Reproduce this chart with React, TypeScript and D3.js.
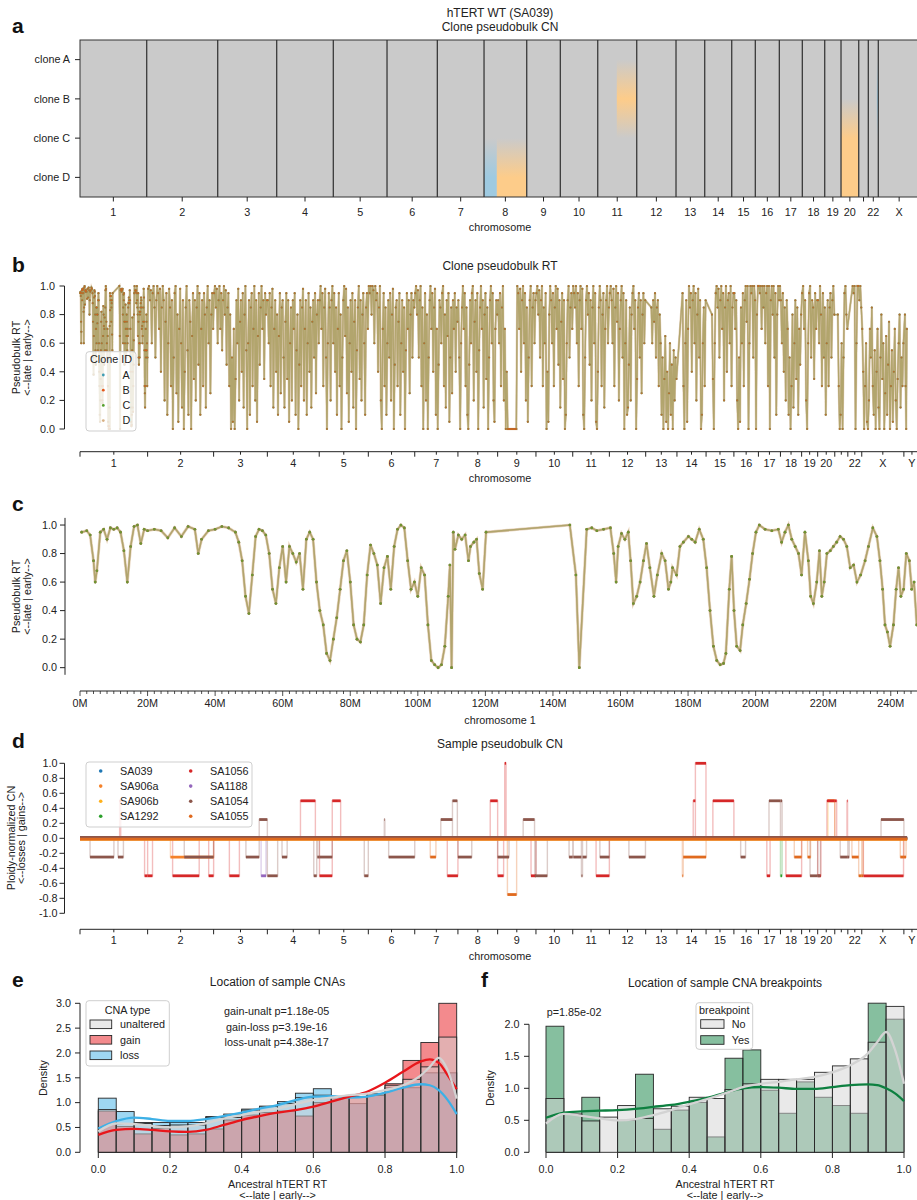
import React from "react";
import * as d3 from "d3";

const FONT = "'Liberation Sans', Arial, Helvetica, sans-serif";
const INK = "#222";

// chromosome names and hg19 lengths (Mb), used by the genome-wide RT / CN tracks
const chromNames = ["1","2","3","4","5","6","7","8","9","10","11","12","13","14","15","16","17","18","19","20","21","22","X","Y"];
const chromLengthsMb = [249.25,243.2,198.02,191.15,180.92,171.12,159.14,146.36,141.21,135.53,135.01,133.85,115.17,107.35,102.53,90.35,81.2,78.08,59.13,63.03,48.13,51.3,155.27,59.37];

// panel a: retained bins per chromosome (Mb), no Y
const cnChromSizes = [227.5,242.2,201.2,193.1,183.2,171.6,159.3,145.6,114.6,127.6,133.0,134.0,97.9,92.1,80.5,81.9,78.4,76.4,55.6,60.4,32.7,34.1,142.2];

const cloneIds = ["A","B","C","D"];
const cloneColors = ["#3f9db3","#e4581b","#58a02e","#d8b185"];

// [clone, chrom, startMb, endMb, state]
const cloneCnEvents: [string, string, number, number, string][] = [
  ["D","8",0,43.6,"loss"],
  ["D","8",43.6,145.6,"gain"],
  ["B","11",65,133,"gain"],
  ["C","20",0,60.4,"gain"],
  ["D","20",0,60.4,"gain"],
  ["B","22",29,34.1,"loss"],
];
const cnStateColors: Record<string, string> = { neutral: "#cacaca", gain: "#fdcc8a", loss: "#9ecae1" };

// panel c: chromosome 1 pseudobulk RT (position Mb, RT)
const chr1Pos = [0.5,2,3,4,4.5,5,6,7,8,9,10,11,12,13,14,15,16,17,18,19,20,22,24,26,28,30,32,34,35,36,38,40,42,44,46,47,48,49,50,51,52,53,54,55,56,57,58,59,60,61,62,63,64,65,66,67,68,69,70,71,72,73,74,75,76,77,78,79,80,81,82,83,84,85,86,87,88,89,90,91,92,93,94,95,96,97,98,99,100,101,102,103,104,105,106,107,108,109,109.5,110,110.5,111,112,113,114,115,115.6,116.6,117.4,118.2,119.2,120.2,145,146.8,147.8,150,151.5,153,155,157,158,158.7,159.3,160.3,161.3,162.3,163,163.8,164.8,165.8,166.8,167.7,168.7,169.9,170.9,172.2,173.2,174.2,174.9,175.4,176.6,177.6,178.6,180.1,181.1,182.1,183.3,184.5,185.5,186.5,187.5,188.5,189.5,190.5,191.2,192.2,192.9,193.6,194.4,195.4,196.2,197.2,198.2,199.1,200.1,201.1,202.8,204.8,206.7,207.7,208.7,209.7,210.7,211.7,212.7,213.6,214.6,215.6,216.3,217.1,218.1,218.9,219.6,220.3,221.1,222.1,223,224,225,226,227,228,229,230,231.1,232.4,233.4,234.7,235.9,236.8,237.6,238.3,239,239.8,240.8,241.6,242.3,243,243.8,244.6,245.5,246.2,246.9,247.7,248.5];
const chr1RT = [0.95,0.96,0.93,0.75,0.6,0.68,0.95,0.97,0.9,0.98,0.97,0.98,0.95,0.82,0.6,0.85,0.99,1.0,0.87,0.97,0.96,0.97,0.96,0.91,0.98,0.92,0.99,0.97,0.8,0.9,0.96,0.97,0.99,0.98,0.95,0.88,0.75,0.5,0.38,0.65,0.92,0.97,0.96,0.93,0.8,0.55,0.45,0.7,0.85,0.6,0.85,0.8,0.74,0.8,0.55,0.9,0.95,0.9,0.6,0.4,0.3,0.1,0.05,0.2,0.35,0.55,0.75,0.82,0.6,0.3,0.2,0.18,0.3,0.65,0.86,0.8,0.72,0.45,0.7,0.78,0.55,0.85,0.97,1.0,0.98,0.75,0.55,0.6,0.5,0.7,0.65,0.3,0.05,0.02,0.0,0.02,0.15,0.5,0.72,0.0,0.95,0.83,0.93,0.9,0.93,0.75,0.85,0.88,0.9,0.66,0.55,0.95,1.0,0.65,0.0,0.97,0.98,0.96,0.97,0.98,0.8,0.6,0.85,0.94,0.9,0.95,0.75,0.45,0.5,0.6,0.75,0.87,0.7,0.5,0.65,0.8,0.75,0.55,0.6,0.7,0.65,0.85,0.88,0.92,0.9,0.88,0.97,0.9,0.7,0.4,0.15,0.05,0.02,0.03,0.1,0.55,0.78,0.4,0.15,0.12,0.3,0.45,0.62,0.8,0.95,1.0,0.97,0.96,0.97,0.88,0.95,1.0,0.9,0.85,0.8,0.65,0.95,0.75,0.5,0.45,0.6,0.82,0.5,0.6,0.8,0.82,0.85,0.88,0.92,0.9,0.85,0.7,0.72,0.6,0.65,0.75,0.85,0.98,0.92,0.75,0.55,0.3,0.25,0.15,0.3,0.55,0.7,0.5,0.55,0.8,0.75,0.55,0.6,0.3,0.5];

// panel b: genome-wide RT, values spread evenly across each chromosome's span
const rtChr2 = [0.98,1.0,0.9,0.97,0.6,0.95,1.0,0.85,0.5,0.9,1.0,0.95,0.7,0.98,0.4,0.85,1.0,0.9,0.2,0.75,0.95,0.1,0.6,0.98,0.85,0.3,0.9,0.0,0.5,0.95,1.0,0.25,0.8,0.05,0.7,0.98,0.6,0.15,0.9,0.0,0.4,0.85,1.0,0.55,0.1,0.9,0.75,0.0,0.65,0.95,0.35,0.9,0.2,0.85,1.0,0.45,0.95,0.1,0.7,0.9,0.3,0.95,0.8,0.15,0.85,1.0,0.6,0.9,0.25,0.8,0.95,0.7];
const rtChr3 = [0.95,1.0,0.85,0.98,0.6,0.9,1.0,0.7,0.95,0.55,0.9,1.0,0.8,0.97,0.45,0.85,0.95,0.3,0.8,0.0,0.5,0.05,0.7,0.0,0.35,0.9,0.6,0.98,0.2,0.75,0.9,0.4,0.95,0.15,0.8,1.0,0.55,0.0,0.6,0.9,0.1,0.85,0.95,0.3,0.7,1.0,0.2,0.9,0.05,0.65,0.95,0.45,0.85,1.0,0.7,0.9,0.35,0.95,0.8,0.9];
const rtChr4 = [0.9,0.6,0.95,0.3,0.85,0.98,0.15,0.7,0.9,0.4,0.8,0.1,0.65,0.95,0.25,0.85,0.9,0.5,0.15,0.75,0.95,0.35,0.9,0.05,0.6,0.85,0.2,0.9,0.7,0.95,0.1,0.55,0.8,0.0,0.45,0.9,0.3,0.85,0.98,0.2,0.7,0.9,0.1,0.6,0.95,0.4,0.85,0.15,0.75,0.9,0.5,0.95,0.25,0.8,0.9,0.6];
const rtChr5 = [0.9,1.0,0.7,0.95,0.3,0.85,0.98,0.5,0.0,0.6,0.95,0.85,0.2,0.9,1.0,0.6,0.95,0.4,0.85,0.1,0.7,0.95,0.3,0.8,0.0,0.5,0.9,1.0,0.65,0.98,0.25,0.85,0.05,0.6,0.9,0.4,0.95,0.15,0.75,0.9,0.0,0.55,0.85,1.0,0.35,0.9,0.2,0.8,0.95,0.6,0.1,0.85,0.95,0.7];
const rtChr6 = [1.0,0.95,1.0,0.8,1.0,0.97,0.6,1.0,0.9,0.95,0.4,0.85,1.0,0.2,0.0,0.7,0.95,0.3,0.85,0.1,0.6,0.9,0.5,0.95,0.2,0.8,0.98,0.0,0.45,0.85,0.9,0.3,0.75,0.95,0.1,0.6,0.9,0.4,0.85,0.0,0.55,0.95,0.7,0.9,0.25,0.8,0.95,0.5,0.9,0.85];
const rtChr7 = [0.95,1.0,0.8,0.97,0.5,0.9,1.0,0.3,0.85,0.0,0.6,0.95,0.2,0.8,0.0,0.5,0.9,1.0,0.7,0.95,0.4,0.85,0.98,0.1,0.7,0.0,0.45,0.9,0.85,0.6,0.95,1.0,0.3,0.8,0.15,0.9,0.65,0.95,0.05,0.5,0.85,0.25,0.9,0.7,0.95,0.4,0.85,0.75];
const rtChr8 = [0.9,0.5,0.0,0.6,0.85,1.0,0.7,0.95,0.3,0.85,0.1,0.0,0.45,0.9,0.6,0.95,1.0,0.2,0.75,0.9,0.4,0.95,0.0,0.55,0.85,1.0,0.7,0.9,0.15,0.8,0.95,0.35,0.85,0.0,0.5,0.9,1.0,0.6,0.95,0.2,0.05,0.7,0.9,0.8];
const rtChr9 = [0.9,0.6,0.95,0.3,0.85,1.0,0.2,0.7,0.0,0.4,0,0,0,0,0,0,0,0,0,0,1.0,0.95,0.7,0.98,0.4,0.9,1.0,0.6,0.95,0.2,0.85,0.05,0.5,0.9,1.0,0.3,0.85,0.95,0.6,0.9];
const rtChr10 = [0.95,1.0,0.8,0.97,0.5,0.9,1.0,0.3,0.85,0.6,0.95,0.0,0.4,0.05,0.8,1.0,0.9,0.6,0.95,0.3,0.85,1.0,0.7,0.98,0.45,0.9,0.15,0.75,0.95,0.35,0.9,0.0,0.1,0.6,0.9,1.0,0.5,0.85,0.95,0.7];
const rtChr11 = [1.0,0.95,0.85,1.0,0.6,0.95,0.3,0.9,1.0,0.7,0.98,0.1,0.0,0.5,0.9,1.0,0.8,0.95,0.45,0.9,0.2,0.85,1.0,0.6,0.95,0.05,0.0,0.4,0.85,1.0,0.9,0.3,0.8,0.95,0.15,0.7,0.9,1.0,0.6,0.85];
const rtChr12 = [0.95,1.0,0.9,0.6,0.98,0.3,0.85,1.0,0.75,0.95,0.2,0.7,0.9,1.0,0.5,0.95,0.0,0.6,0.9,0.1,0.15,0.45,0.85,0.2,0.8,0.95,1.0,0.7,0.9,0.0,0.35,0.85,0.95,0.5,0.9,0.25,0.8,0.95,0.6,0.9];
const rtChr13 = [0.85,0.6,0.9,0.75,0.95,0.5,0.85,0.9,0.3,0.8,0.6,0.1,0.5,0.0,0.35,0.65,0.05,0.4,0.0,0.25,0.6,0.1,0.45,0.0,0.55,0.2,0.5,0.35];
const rtChr14 = [0.95,0.3,0.0,0.6,0.9,0.05,0.7,1.0,0.85,0.95,0.4,0.9,1.0,0.6,0.95,0.2,0.8,0.98,0.5,0.9,0.0,0.1,0.6,0.85,0.3,0.9];
const rtChr15 = [0.8,0.35,0.0,0.6,0.95,1.0,0.85,0.98,0.5,0.9,1.0,0.7,0.95,0.2,0.85,1.0,0.4,0.9,0.95,0.6,1.0,0.3,0.85,0.95];
const rtChr16 = [0.95,0.7,0.9,0.2,0.0,0.5,0.05,0.85,0.6,0.95,0.3,0.9,1.0,0.75,1.0,0.0,0.6,1.0,0.95,1.0,0.5,1.0,0.9,0.0,0.8,1.0];
const rtChr17 = [1.0,0.95,1.0,0.7,1.0,0.85,1.0,0.6,0.95,1.0,0.3,1.0,0.0,0.9,1.0,0.8,1.0,0.5,0.95,0.1,0.8,1.0,0.9,1.0];
const rtChr18 = [0.9,0.6,0.95,0.4,0.85,0.2,0.9,0.7,0.1,0.5,0.0,0.3,0.8,0.15,0.6,0.9,0.35,0.85,0.1,0.7,0.45,0.8];
const rtChr19 = [0.95,1.0,0.7,0.9,0.2,0.0,0.6,0.95,1.0,0.5,0.9,0.85,0.35,0.95,0.7,0.9];
const rtChr20 = [0.9,0.6,1.0,0.8,0.3,0.95,0.5,0.85,0.1,0.6,0.9,0.3,0.85,0.95,0.5,0.9,1.0,0.8];
const rtChr21 = [0.8,0.3,0.0,0.1,0.6,0.0,0.5,0.95,1.0,0.8,0.7];
const rtChr22 = [1.0,0.95,1.0,0.0,0.6,1.0,1.0,0.9,1.0,0.85];
const rtChrX = [0.7,0.4,0.0,0.3,0.6,0.05,0.0,0.2,0.7,0.5,0.85,0.3,0.1,0.55,0.0,0.4,0.7,0.15,0.0,0.5,0.8,0.35,0.6,0.0,0.25,0.65,0.1,0.45,0.75,0.0,0.3,0.55,0.05,0.4,0.7,0.2,0.0,0.35,0.6,0.8,0.15,0.5,0.3,0.6];
const rtChrY = [0.8,0.3,0.0,0.7];
const rtByChrom = [chr1RT,rtChr2,rtChr3,rtChr4,rtChr5,rtChr6,rtChr7,rtChr8,rtChr9,rtChr10,rtChr11,rtChr12,rtChr13,rtChr14,rtChr15,rtChr16,rtChr17,rtChr18,rtChr19,rtChr20,rtChr21,rtChr22,rtChrX,rtChrY];
const rtSpanStartMb = [0,0,0,0,0,0,0,0,0,0,0,0,19,19,20,0,0,0,0,0,9.4,16,0,2.7];
const rtSpanEndMb = [249.25,243.2,198.02,191.15,180.92,171.12,159.14,146.36,141.21,135.53,135.01,133.85,115.17,107.35,102.53,90.35,81.2,78.08,59.13,63.03,48.13,51.3,155.27,12];

// panel d: sample pseudobulk CN
const sampleIds = ["SA039","SA906a","SA906b","SA1292","SA1056","SA1188","SA1054","SA1055"];
const sampleColors = ["#1f77b4","#f5822a","#ffb11b","#2ca02c","#d62728","#9467bd","#8c564b","#e06a1e"];
const sampleBaselines = [0,-0.01,-0.01,0,0,0,0.012,-0.012];
// [sample, chrom, startMb, endMb, ploidy-normalized CN]
const sampleCnSegments: [string, string, number, number, number][] = [
  ["SA1054","1",37,125,-0.25],["SA1054","1",140,160,-0.25],["SA1056","1",146,150,0.5],
  ["SA1056","1",238,249.25,-0.5],["SA1056","2",0,18,-0.5],["SA906a","2",84,243.2,-0.25],
  ["SA1054","2",135,243.2,-0.25],["SA1056","2",92,190,-0.5],["SA1056","2",225,243.2,-0.5],
  ["SA1056","3",58,95,-0.5],["SA1054","3",119,168,-0.25],["SA1054","3",168,198,0.25],
  ["SA1188","3",175,193,-0.5],["SA1054","4",0,38,-0.5],["SA1054","4",54,73,-0.25],
  ["SA1056","4",122,177,0.5],["SA1054","4",171,182,-0.5],["SA1054","4",184,191.15,-0.25],
  ["SA1054","5",0,48,-0.25],["SA1056","5",1,48,-0.5],["SA1056","5",48,79,0.5],
  ["SA1054","5",166,180.92,-0.5],["SA1054","6",59,61,0.25],["SA1054","6",75,171.12,-0.25],
  ["SA1055","7",57,78,-0.25],["SA1054","7",96,139,0.25],["SA1054","7",139,157,0.5],
  ["SA1056","7",120,159.14,-0.5],["SA1054","8",0,51,-0.25],["SA1056","8",119,146.36,0.5],
  ["SA1056","9",0,22,-0.5],["SA1054","9",0,42,-0.25],["SA1056","9",26,31,1.0],
  ["SA1055","9",36,70,-0.75],["SA1054","9",94,136,0.25],["SA1056","9",123,141.21,-0.5],
  ["SA1054","9",137,141.21,-0.5],["SA1054","10",0,42,-0.5],["SA1054","10",122,135.53,-0.25],
  ["SA1054","11",2,32,-0.25],["SA1054","11",32,36,-0.5],["SA1054","11",36,51,-0.25],
  ["SA1056","11",86,135.01,-0.5],["SA1054","11",100,135.01,-0.25],["SA1054","12",72,133,-0.25],
  ["SA1055","14",20,23,-0.5],["SA1055","14",23,107.35,-0.25],["SA1056","14",60,68,0.5],
  ["SA1056","14",68,107,1.0],["SA1056","15",25,102.53,0.5],["SA1054","16",25,43,-0.25],
  ["SA1056","17",31,43,-0.5],["SA1054","17",39,81.2,0.5],["SA1054","18",0,6,0.5],
  ["SA1292","18",0,6,-0.5],["SA1056","18",20,78.08,-0.5],["SA1055","18",51,78.08,-0.25],
  ["SA1055","19",22,33,-0.25],["SA1054","19",31,59.13,-0.5],["SA1054","20",0,10,-0.5],
  ["SA1056","20",0,12,-0.5],["SA1056","20",34,63.03,0.5],["SA906b","20",38,63.03,0.5],
  ["SA1056","21",0,7,0.5],["SA1054","21",20,48.13,-0.25],["SA1056","21",45,47,0.5],
  ["SA1054","22",0,5,-0.25],["SA1055","22",15,40,-0.25],["SA1055","22",40,51.3,-0.5],
  ["SA1055","X",0,5,-0.5],["SA1056","X",6,154,-0.5],["SA1054","X",71,155.27,0.25],
  ["SA1055","X",142,155.27,-0.25],["SA1055","Y",0,8,-0.25],
];

// panel e: histogram densities per 0.05 bin
const cnaTypes = ["unaltered","gain","loss"];
const cnaColors = ["#d3d3d3","#e8161b","#3db0e6"];
const histUnaltered = [0.86,0.57,0.58,0.54,0.55,0.55,0.7,0.7,0.85,0.93,0.98,1.1,1.15,1.12,1.12,1.18,1.35,1.47,1.72,2.32];
const histGain = [0.83,0.52,0.37,0.48,0.35,0.37,0.47,0.65,0.75,0.8,0.83,0.73,1.0,1.1,1.12,1.15,1.38,1.85,2.21,3.0];
const histLoss = [1.09,0.82,0.6,0.6,0.6,0.6,0.72,0.77,0.87,0.92,1.02,1.19,1.28,1.1,0.98,1.15,1.3,1.3,1.6,1.6];
const kdeGrid = [0,0.05,0.1,0.15,0.2,0.25,0.3,0.35,0.4,0.45,0.5,0.55,0.6,0.65,0.7,0.75,0.8,0.85,0.9,0.925,0.95,0.975,1.0];
const kdeUnaltered = [0.42,0.58,0.57,0.53,0.5,0.52,0.58,0.68,0.75,0.82,0.88,0.97,1.05,1.1,1.15,1.18,1.25,1.35,1.55,1.72,1.9,1.65,1.08];
const kdeGain = [0.35,0.45,0.47,0.45,0.42,0.41,0.45,0.55,0.65,0.73,0.8,0.85,0.92,1.02,1.12,1.22,1.4,1.62,1.83,1.87,1.8,1.55,1.27];
const kdeLoss = [0.48,0.63,0.7,0.67,0.63,0.63,0.67,0.73,0.8,0.88,0.95,1.05,1.12,1.13,1.1,1.12,1.2,1.3,1.37,1.35,1.25,1.05,0.77];
const cnaStats = ["gain-unalt p=1.18e-05","gain-loss p=3.19e-16","loss-unalt p=4.38e-17"];

// panel f
const bpLevels = ["No","Yes"];
const bpColors = ["#d3d3d3","#0d8040"];
const histBpNo = [0.84,0.6,0.49,0.55,0.73,0.53,0.68,0.72,0.86,0.84,0.98,1.07,1.14,1.14,1.14,1.25,1.35,1.46,1.72,2.28];
const histBpYes = [1.97,0.59,0.86,0,0.5,1.22,0.36,0.66,0.78,0.24,1.47,1.6,0.97,0.61,1.1,0.86,0.73,0.61,2.33,2.08];
const kdeBpNo = [0.45,0.6,0.57,0.53,0.5,0.52,0.58,0.66,0.75,0.83,0.92,1.02,1.07,1.1,1.14,1.18,1.25,1.36,1.55,1.72,1.88,1.6,1.07];
const kdeBpYes = [0.54,0.62,0.64,0.65,0.66,0.68,0.71,0.74,0.79,0.85,0.93,1.0,1.02,1.01,0.99,0.99,1.02,1.05,1.06,1.05,1.0,0.92,0.8];
const bpStat = "p=1.85e-02";

const BIN = 0.05;
const fmt1 = (v: number) => (Math.abs(v) < 1e-9 ? "0.0" : v.toFixed(1));

export default function App() {
  const gOff = [0, ...Array.from(d3.cumsum(chromLengthsMb))];
  const gx = d3.scaleLinear().domain([0, gOff[24]]).range([80, 920]);
  const gEnd = gOff[23] + rtSpanEndMb[23];
  const ci = (c: string) => chromNames.indexOf(c);

  // ---- panel a ----
  const cnOff = [0, ...Array.from(d3.cumsum(cnChromSizes))];
  const ax = d3.scaleLinear().domain([0, cnOff[cnOff.length - 1]]).range([80, 920]);
  const ay = d3.scaleBand().domain(cloneIds).range([40, 197]);
  const cnCells: { x0: number; x1: number; states: string[] }[] = [];
  cnChromSizes.forEach((size, k) => {
    const ev = cloneCnEvents.filter((e) => e[1] === chromNames[k]);
    if (!ev.length) return;
    const bps = Array.from(new Set([0, size, ...ev.flatMap((e) => [e[2], e[3]])])).sort((a, b) => a - b);
    for (let j = 0; j < bps.length - 1; j++) {
      const mid = (bps[j] + bps[j + 1]) / 2;
      const states = cloneIds.map((cl) => {
        const e = ev.find((q) => q[0] === cl && q[2] <= mid && q[3] > mid);
        return e ? e[4] : "neutral";
      });
      if (states.every((s) => s === "neutral")) continue;
      cnCells.push({ x0: ax(cnOff[k] + bps[j]), x1: ax(cnOff[k] + bps[j + 1]), states });
    }
  });

  // ---- panel b ----
  const rtPts = rtByChrom.flatMap((vals, k) => {
    if (k === 0) return chr1Pos.map((p, i) => ({ g: p, v: chr1RT[i] }));
    const s = rtSpanStartMb[k], e = rtSpanEndMb[k];
    return vals.map((v, i) => ({ g: gOff[k] + s + ((i + 0.5) * (e - s)) / vals.length, v }));
  });
  const by = d3.scaleLinear().domain([-0.05, 1.05]).range([436.15, 278.85]);
  const bLine = d3.line<{ g: number; v: number }>().x((d) => gx(d.g)).y((d) => by(d.v));

  // ---- panel c ----
  const cx = d3.scaleLinear().domain([0, 249.25]).range([80, 922]);
  const cy = d3.scaleLinear().domain([-0.05, 1.05]).range([674.8, 517.9]);
  const cPts = chr1Pos.map((p, i) => ({ p, v: chr1RT[i] }));
  const cLine = d3.line<{ p: number; v: number }>().x((d) => cx(d.p)).y((d) => cy(d.v));

  // ---- panel d ----
  const dy = d3.scaleLinear().domain([-1, 1]).range([913.3, 763.3]);
  const samplePaths = sampleIds.map((sid, k) => {
    const base = sampleBaselines[k];
    const segs = sampleCnSegments
      .filter((s) => s[0] === sid)
      .map((s) => ({ g0: gOff[ci(s[1])] + s[2], g1: gOff[ci(s[1])] + s[3], v: s[4] }))
      .sort((a, b) => a.g0 - b.g0);
    const pts: [number, number][] = [[0, base]];
    segs.forEach((s) => {
      pts.push([s.g0, base], [s.g0, s.v], [s.g1, s.v], [s.g1, base]);
    });
    pts.push([gEnd, base]);
    return { sid, color: sampleColors[k], base, segs, pts };
  });
  const dLine = d3.line<[number, number]>().x((d) => gx(d[0])).y((d) => dy(d[1]));

  // ---- panels e / f ----
  const ex = d3.scaleLinear().domain([0, 1]).range([98.3, 456.7]);
  const ey = d3.scaleLinear().domain([0, 3]).range([1152.3, 1003.3]);
  const fx = d3.scaleLinear().domain([0, 1]).range([546, 904]);
  const fy = d3.scaleLinear().domain([0, 2]).range([1152.3, 1024.3]);
  const kdeLine = (xs: d3.ScaleLinear<number, number>, ys: d3.ScaleLinear<number, number>) =>
    d3.line<number>().x((_, i) => xs(kdeGrid[i])).y((d) => ys(d)).curve(d3.curveMonotoneX);

  const bars = (vals: number[], xs: d3.ScaleLinear<number, number>, ys: d3.ScaleLinear<number, number>, color: string, key: string) =>
    vals.map((v, i) =>
      v > 0 ? (
        <rect key={key + i} x={xs(i * BIN)} width={xs(BIN) - xs(0)} y={ys(v)} height={ys(0) - ys(v)}
          fill={color} fillOpacity={0.5} stroke="#262626" strokeWidth={0.9} />
      ) : null
    );

  const chromAxis = (y: number) => (
    <g>
      <line x1={80} x2={920} y1={y} y2={y} stroke={INK} strokeWidth={1} />
      {gOff.map((o, i) => (
        <line key={"bd" + i} x1={gx(o)} x2={gx(o)} y1={y} y2={y + 5} stroke={INK} />
      ))}
      {chromNames.map((c, i) => {
        const x = gx(gOff[i] + chromLengthsMb[i] / 2);
        return (
          <g key={"ct" + c}>
            <line x1={x} x2={x} y1={y} y2={y + 3} stroke={INK} />
            {c !== "21" && <text x={x} y={y + 15} textAnchor="middle">{c}</text>}
          </g>
        );
      })}
      <text x={500} y={y + 30.5} textAnchor="middle">chromosome</text>
    </g>
  );

  const yAxis = (ticks: number[], ys: (v: number) => number, x: number, y0: number, y1: number, labelX: number) => (
    <g>
      <line x1={x} x2={x} y1={y0} y2={y1} stroke={INK} />
      {ticks.map((t) => (
        <g key={"yt" + t}>
          <line x1={x - 5} x2={x} y1={ys(t)} y2={ys(t)} stroke={INK} />
          <text x={labelX} y={ys(t) + 3.8} textAnchor="end">{fmt1(t)}</text>
        </g>
      ))}
    </g>
  );

  const rotLabel = (lines: string[], xs: number[], yc: number) =>
    lines.map((l, i) => (
      <text key={l} transform={`translate(${xs[i]},${yc}) rotate(-90)`} textAnchor="middle">{l}</text>
    ));

  const rtTicks = [0, 0.2, 0.4, 0.6, 0.8, 1.0];
  const cnTicks = d3.range(-10, 11, 2).map((k) => k / 10);
  const histXTicks = [0, 0.2, 0.4, 0.6, 0.8, 1.0];

  const panelLetter = (t: string, x: number, y: number) => (
    <text x={x} y={y} fontSize={21} fontWeight="bold" fill="#111">{t}</text>
  );

  return (
    <svg width={917} height={1200} style={{ position: "absolute", left: 0, top: 0 }}
      fontFamily={FONT} fontSize={10.8} fill={INK}>
      <defs>
        {cnCells.map((c, i) => (
          <linearGradient key={"g" + i} id={"cngrad" + i} x1="0" y1="0" x2="0" y2="1">
            {c.states.map((s, r) => (
              <stop key={r} offset={(r + 0.5) / cloneIds.length} stopColor={cnStateColors[s]} />
            ))}
          </linearGradient>
        ))}
      </defs>
      <rect x={0} y={0} width={917} height={1200} fill="#fff" />

      {/* ---------- a ---------- */}
      {panelLetter("a", 12, 33.3)}
      <text x={500} y={17.3} textAnchor="middle" fontSize={12}>hTERT WT (SA039)</text>
      <text x={500} y={30.7} textAnchor="middle" fontSize={12}>Clone pseudobulk CN</text>
      <rect x={80} y={40} width={840} height={157} fill={cnStateColors.neutral} />
      {cnCells.map((c, i) => (
        <rect key={"cell" + i} x={c.x0} y={40} width={c.x1 - c.x0} height={157} fill={`url(#cngrad${i})`} />
      ))}
      {cnOff.slice(1, -1).map((o, i) => (
        <line key={"cb" + i} x1={ax(o)} x2={ax(o)} y1={40} y2={197} stroke="#3a3a3a" strokeWidth={1.3} />
      ))}
      <rect x={80} y={40} width={840} height={157} fill="none" stroke="#333" strokeWidth={1} />
      {cloneIds.map((cl) => {
        const y = (ay(cl) as number) + ay.bandwidth() / 2;
        return (
          <g key={"cl" + cl}>
            <line x1={75} x2={80} y1={y} y2={y} stroke={INK} />
            <text x={70} y={y + 3.8} textAnchor="end">{"clone " + cl}</text>
          </g>
        );
      })}
      {cnChromSizes.map((s, i) => {
        const x = ax(cnOff[i] + s / 2);
        return (
          <g key={"at" + i}>
            <line x1={x} x2={x} y1={197} y2={201.5} stroke={INK} />
            {chromNames[i] !== "21" && <text x={x} y={216} textAnchor="middle">{chromNames[i]}</text>}
          </g>
        );
      })}
      <text x={500} y={231} textAnchor="middle">chromosome</text>

      {/* ---------- b ---------- */}
      {panelLetter("b", 12, 271.7)}
      <text x={500} y={269.5} textAnchor="middle" fontSize={12}>Clone pseudobulk RT</text>
      {cloneIds.map((cl, k) => (
        <path key={"bl" + cl} d={bLine(rtPts) || ""} fill="none" stroke={cloneColors[k]}
          strokeWidth={cl === "D" ? 2.4 : 1.3} strokeOpacity={0.5} />
      ))}
      {[3, 0, 2, 1].map((k) => (
        <g key={"bp" + k} fill={cloneColors[k]} fillOpacity={0.65}>
          {rtPts.map((d, i) => (
            <circle key={i} cx={gx(d.g)} cy={by(d.v)} r={1.05} />
          ))}
        </g>
      ))}
      {yAxis(rtTicks, by, 64.5, by(1), by(0), 55)}
      {rotLabel(["Pseudobulk RT", "<--late | early-->"], [20, 31], 357.5)}
      {chromAxis(451.7)}
      <rect x={86} y={351.7} width={50} height={79.3} rx={3} fill="#fff" fillOpacity={0.8} stroke="#cfcfcf" />
      <text x={111} y={363} textAnchor="middle">Clone ID</text>
      {cloneIds.map((cl, k) => {
        const y = 375 + k * 15.2;
        return (
          <g key={"lg" + cl}>
            <circle cx={103.3} cy={y} r={1.4} fill={cloneColors[k]} />
            <text x={122.5} y={y + 3.8}>{cl}</text>
          </g>
        );
      })}

      {/* ---------- c ---------- */}
      {panelLetter("c", 12, 510.7)}
      {cloneIds.map((cl, k) => (
        <path key={"cl" + cl} d={cLine(cPts) || ""} fill="none" stroke={cloneColors[k]}
          strokeWidth={cl === "D" ? 3 : 1.5} strokeOpacity={0.5} />
      ))}
      {[3, 0, 1, 2].map((k) => (
        <g key={"cp" + k} fill={cloneColors[k]} fillOpacity={0.8}>
          {cPts.map((d, i) => (
            <circle key={i} cx={cx(d.p)} cy={cy(d.v)} r={1.3} />
          ))}
        </g>
      ))}
      {yAxis(rtTicks, cy, 65, 517.9, 674.8, 57)}
      {rotLabel(["Pseudobulk RT", "<--late | early-->"], [20, 31], 596.5)}
      <line x1={80} x2={917} y1={691} y2={691} stroke={INK} />
      {d3.range(0, 250, 2).map((m) => (
        <line key={"cm" + m} x1={cx(m)} x2={cx(m)} y1={691} y2={m % 20 === 0 ? 696 : 694} stroke={INK} strokeWidth={0.8} />
      ))}
      {d3.range(0, 250, 20).map((m) => (
        <text key={"cml" + m} x={cx(m)} y={706.7} textAnchor="middle">{m + "M"}</text>
      ))}
      <text x={500} y={724} textAnchor="middle">chromosome 1</text>

      {/* ---------- d ---------- */}
      {panelLetter("d", 12, 748.3)}
      <text x={500} y={748.3} textAnchor="middle" fontSize={12}>Sample pseudobulk CN</text>
      {samplePaths.map((s) => (
        <path key={"dp" + s.sid} d={dLine(s.pts) || ""} fill="none" stroke={s.color} strokeWidth={1.4} strokeOpacity={0.3} />
      ))}
      {samplePaths.map((s) => (
        <g key={"ds" + s.sid} stroke={s.color} strokeWidth={2.8}>
          <line x1={gx(0)} x2={gx(gEnd)} y1={dy(s.base)} y2={dy(s.base)} />
          {s.segs.map((g, i) => (
            <line key={i} x1={gx(g.g0)} x2={gx(g.g1)} y1={dy(g.v)} y2={dy(g.v)} />
          ))}
        </g>
      ))}
      {yAxis(cnTicks, dy, 64.5, 763.3, 913.3, 57.5)}
      {rotLabel(["Ploidy-normalized CN", "<--losses | gains-->"], [14.5, 25], 838)}
      {chromAxis(929.3)}
      <rect x={86} y={762} width={166} height={65} rx={3} fill="#fff" fillOpacity={0.8} stroke="#cfcfcf" />
      {sampleIds.map((sid, k) => {
        const col = Math.floor(k / 4), row = k % 4;
        const y = 771 + row * 15.1;
        return (
          <g key={"dl" + sid}>
            <circle cx={100.7 + col * 90} cy={y} r={1.8} fill={sampleColors[k]} />
            <text x={120 + col * 90} y={y + 3.8}>{sid}</text>
          </g>
        );
      })}

      {/* ---------- e ---------- */}
      {panelLetter("e", 12, 986.7)}
      <text x={277.5} y={986} textAnchor="middle" fontSize={12}>Location of sample CNAs</text>
      {bars(histLoss, ex, ey, cnaColors[2], "hl")}
      {bars(histGain, ex, ey, cnaColors[1], "hg")}
      {bars(histUnaltered, ex, ey, cnaColors[0], "hu")}
      {[kdeLoss, kdeGain, kdeUnaltered].map((k, i) => (
        <path key={"ek" + i} d={kdeLine(ex, ey)(k) || ""} fill="none" stroke={cnaColors[2 - i]} strokeWidth={2.3} />
      ))}
      {yAxis([0, 0.5, 1, 1.5, 2, 2.5, 3], ey, 80, ey(3), ey(0), 71)}
      {histXTicks.map((t) => (
        <g key={"ext" + t}>
          <line x1={ex(t)} x2={ex(t)} y1={1153} y2={1158} stroke={INK} />
          <text x={ex(t)} y={1173} textAnchor="middle">{fmt1(t)}</text>
        </g>
      ))}
      <text transform="translate(47,1078) rotate(-90)" textAnchor="middle">Density</text>
      <text x={277.5} y={1188} textAnchor="middle">Ancestral hTERT RT</text>
      <text x={277.5} y={1198.5} textAnchor="middle">{"<--late | early-->"}</text>
      <rect x={86} y={1000.7} width={83.3} height={65.3} rx={3} fill="#fff" fillOpacity={0.8} stroke="#cfcfcf" />
      <text x={127.5} y={1013.5} textAnchor="middle">CNA type</text>
      {cnaTypes.map((t, k) => {
        const y = 1024.3 + k * 15.5;
        return (
          <g key={"el" + t}>
            <rect x={90} y={y - 4.3} width={21.7} height={8.6} fill={cnaColors[k]} fillOpacity={0.5} stroke="#262626" strokeWidth={0.9} />
            <text x={120} y={y + 3.8}>{t}</text>
          </g>
        );
      })}
      {cnaStats.map((s, k) => (
        <text key={"es" + k} x={276.7} y={1015 + k * 15.5} textAnchor="middle">{s}</text>
      ))}

      {/* ---------- f ---------- */}
      {panelLetter("f", 481, 986.7)}
      <text x={725} y={986.5} textAnchor="middle" fontSize={12}>Location of sample CNA breakpoints</text>
      {bars(histBpYes, fx, fy, bpColors[1], "fy")}
      {bars(histBpNo, fx, fy, bpColors[0], "fn")}
      <path d={kdeLine(fx, fy)(kdeBpYes) || ""} fill="none" stroke={bpColors[1]} strokeWidth={2.3} />
      <path d={kdeLine(fx, fy)(kdeBpNo) || ""} fill="none" stroke={bpColors[0]} strokeWidth={2.3} />
      {yAxis([0, 0.5, 1, 1.5, 2], fy, 529, fy(2), fy(0), 519.5)}
      {histXTicks.map((t) => (
        <g key={"fxt" + t}>
          <line x1={fx(t)} x2={fx(t)} y1={1153} y2={1158} stroke={INK} />
          <text x={fx(t)} y={1173} textAnchor="middle">{fmt1(t)}</text>
        </g>
      ))}
      <text transform="translate(493.5,1088) rotate(-90)" textAnchor="middle">Density</text>
      <text x={725} y={1188} textAnchor="middle">Ancestral hTERT RT</text>
      <text x={725} y={1198.5} textAnchor="middle">{"<--late | early-->"}</text>
      <text x={546.7} y={1015.5}>{bpStat}</text>
      <rect x={696} y={1002.7} width={56.7} height={46.6} rx={3} fill="#fff" fillOpacity={0.8} stroke="#cfcfcf" />
      <text x={724.3} y={1013.5} textAnchor="middle">breakpoint</text>
      {bpLevels.map((t, k) => {
        const y = 1024 + k * 16;
        return (
          <g key={"fl" + t}>
            <rect x={700.7} y={y - 4.3} width={23.3} height={8.6} fill={bpColors[k]} fillOpacity={0.5} stroke="#262626" strokeWidth={0.9} />
            <text x={731.7} y={y + 3.8}>{t}</text>
          </g>
        );
      })}
    </svg>
  );
}
